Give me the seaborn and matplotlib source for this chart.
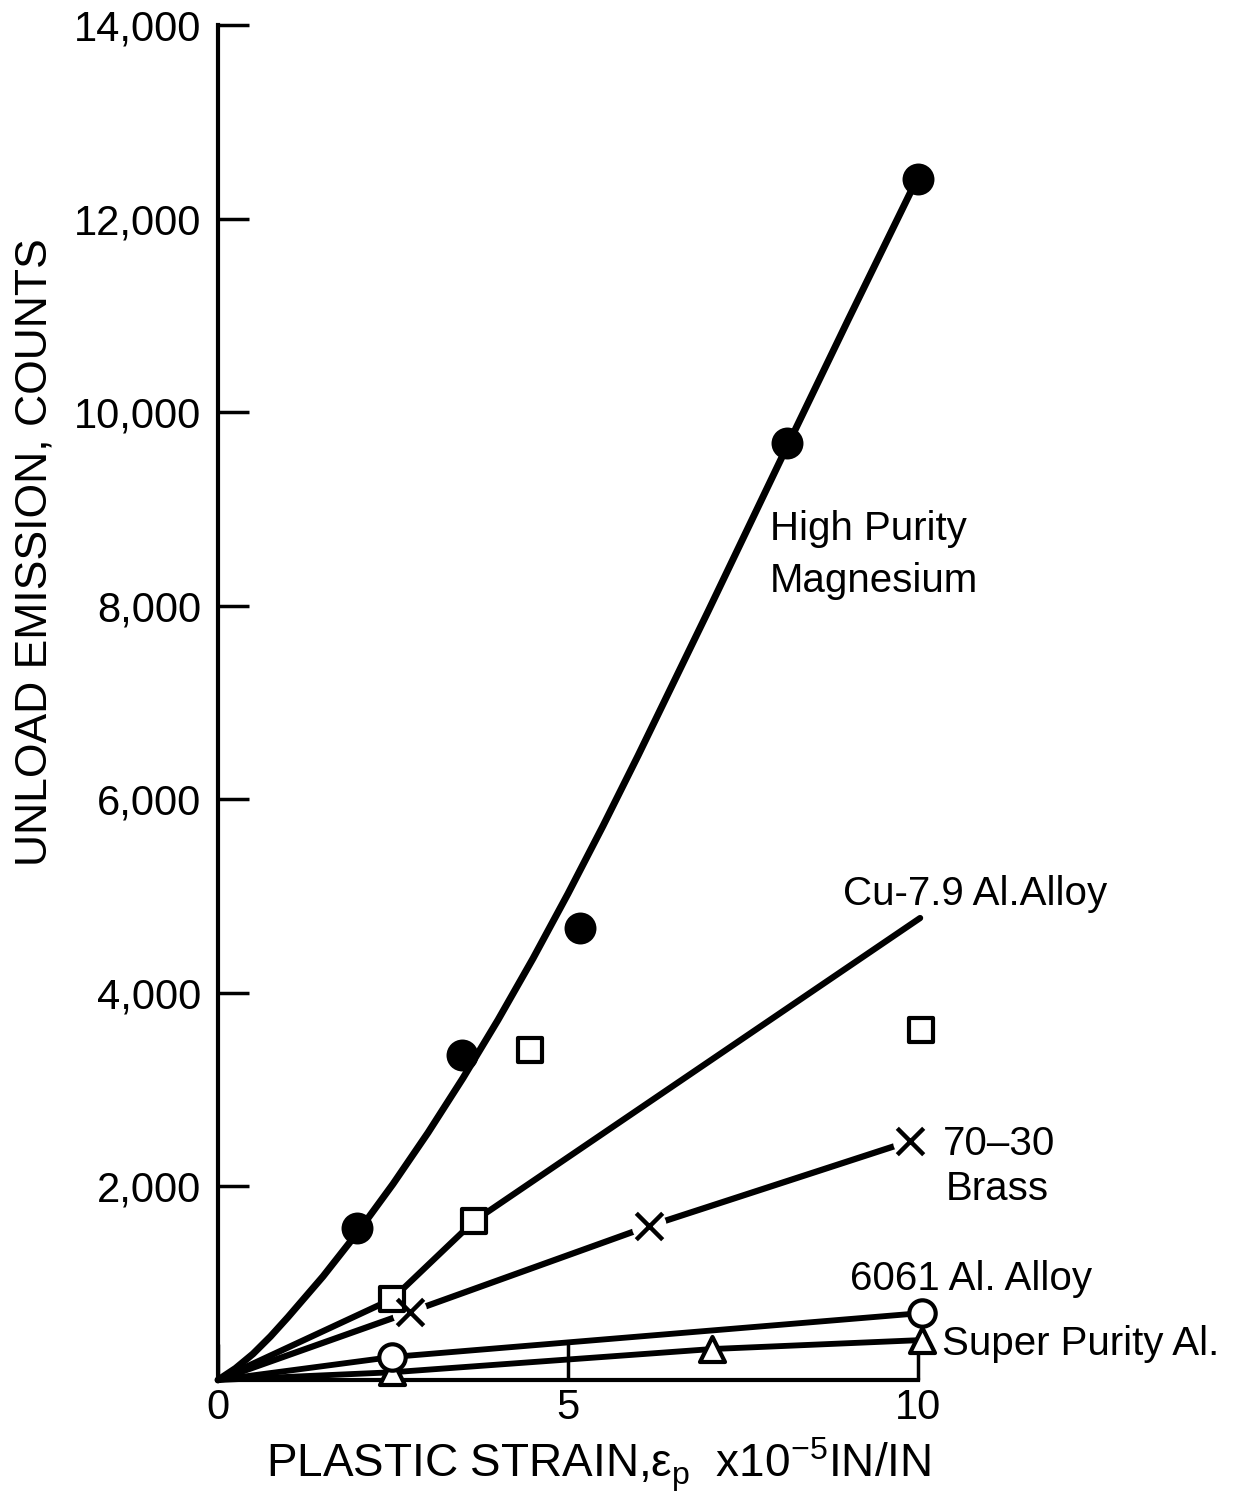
import matplotlib
matplotlib.use("Agg")
import matplotlib.pyplot as plt
import seaborn as sns
import pandas as pd

# ---------------- data ----------------
mg_curve_x = [0, 0.25, 0.5, 0.75, 1, 1.5, 2, 2.5, 3, 3.5, 4, 4.5, 5, 5.5, 6, 7, 8, 9, 9.95]
mg_curve_y = [0, 120, 270, 450, 650, 1070, 1530, 2025, 2555, 3120, 3720, 4355, 5025, 5725, 6450, 7940, 9450, 10950, 12356]
mg_x = [1.99, 3.49, 5.17, 8.13, 10.0]
mg_y = [1570, 3357, 4669, 9679, 12406]

cu_line_x = [0, 2.49, 3.66, 10.03]
cu_line_y = [0, 837, 1643, 4773]
cu_x = [2.49, 3.66, 4.46, 10.04]
cu_y = [837, 1643, 3409, 3616]

brass_x = [2.74, 6.16, 9.89]
brass_y = [702, 1591, 2469]

al6061_x = [2.49, 10.06]
al6061_y = [238, 692]

sp_x = [2.49, 7.06, 10.06]
sp_y = [80, 320, 413]

x_ticks = [0, 5, 10]
x_tick_labels = ["0", "5", "10"]
y_ticks = [2000, 4000, 6000, 8000, 10000, 12000, 14000]
y_tick_labels = ["2,000", "4,000", "6,000", "8,000", "10,000", "12,000", "14,000"]

# ---------------- style ----------------
sns.set_theme(style="white")
plt.rcParams["font.family"] = ["Liberation Sans", "DejaVu Sans"]
plt.rcParams["mathtext.fontset"] = "custom"
plt.rcParams["mathtext.rm"] = "Liberation Sans"
plt.rcParams["mathtext.it"] = "Liberation Sans"
plt.rcParams["mathtext.bf"] = "Liberation Sans:bold"

W, H = 1239, 1499
fig = plt.figure(figsize=(W / 100, H / 100), dpi=100)
x0_px, y0_px, ytop_px = 218, 1380, 25
ppu = 70.0
ax = fig.add_axes([x0_px / W, (H - y0_px) / H, (W - x0_px) / W, (y0_px - ytop_px) / H])
ax.set_xlim(0, (W - x0_px) / ppu)
ax.set_ylim(0, 14000)
ax.set_facecolor("white")
fig.patch.set_facecolor("white")


def line(xs, ys, lw):
    if xs[0] != 0:
        xs = [0] + list(xs)
        ys = [0] + list(ys)
    df = pd.DataFrame({"x": xs, "y": ys})
    sns.lineplot(data=df, x="x", y="y", sort=False, estimator=None, color="black",
                 linewidth=lw, ax=ax, zorder=2, clip_on=False)


# lines
line(mg_curve_x, mg_curve_y, 5.0)
line(cu_line_x, cu_line_y, 4.5)
line(brass_x, brass_y, 4.5)
line(al6061_x, al6061_y, 4.2)
line(sp_x, sp_y, 4.2)

# white halos to break the brass line around its crosses
sns.scatterplot(x=brass_x, y=brass_y, marker="o", s=25 ** 2, color="white",
                edgecolor="none", linewidth=0, ax=ax, zorder=3, clip_on=False)

# super purity triangles
sns.scatterplot(x=sp_x, y=sp_y, marker="^", s=18 ** 2, facecolor="white",
                edgecolor="black", linewidth=3, ax=ax, zorder=4, clip_on=False)
# 6061 open circles
sns.scatterplot(x=al6061_x, y=al6061_y, marker="o", s=19 ** 2, facecolor="white",
                edgecolor="black", linewidth=3, ax=ax, zorder=5, clip_on=False)
# Cu-7.9Al squares
sns.scatterplot(x=cu_x, y=cu_y, marker="s", s=17 ** 2, facecolor="white",
                edgecolor="black", linewidth=3, ax=ax, zorder=5, clip_on=False)
# brass crosses
sns.scatterplot(x=brass_x, y=brass_y, marker="x", s=19 ** 2, color="black",
                linewidth=3.2, ax=ax, zorder=6, clip_on=False)
# magnesium filled circles
sns.scatterplot(x=mg_x, y=mg_y, marker="o", s=23 ** 2, color="black",
                edgecolor="black", linewidth=0, ax=ax, zorder=6, clip_on=False)

# ---------------- axes ----------------
for s in ["top", "right"]:
    ax.spines[s].set_visible(False)
ax.spines["left"].set_bounds(0, 14000)
ax.spines["bottom"].set_bounds(0, 10)
for s in ["left", "bottom"]:
    ax.spines[s].set_linewidth(3)
    ax.spines[s].set_color("black")

ax.set_xticks(x_ticks)
ax.set_xticklabels(x_tick_labels)
ax.set_yticks(y_ticks)
ax.set_yticklabels(y_tick_labels)
ax.tick_params(axis="y", direction="in", length=22, width=2.5, pad=12,
               labelsize=30, colors="black", left=True)
ax.tick_params(axis="x", direction="in", length=26, width=2.5, pad=6,
               labelsize=30, colors="black", bottom=True)
ax.set_xlabel("")
ax.set_ylabel("")

fig.text(35 / W, 1 - 552 / H, "UNLOAD EMISSION, COUNTS", rotation=90,
         ha="center", va="center", fontsize=32, color="black")
fig.text(598 / W, (H - 1477) / H, r"PLASTIC STRAIN,$\epsilon_p$  x10$^{-5}$IN/IN",
         ha="center", va="baseline", fontsize=33, color="black")


def px2d(px, py):
    return (px - x0_px) / ppu, (y0_px - py) * 14000 / (y0_px - ytop_px)


fs = 29
for txt, (px, py) in [("High Purity", (770, 540)), ("Magnesium", (770, 592)),
                      ("Cu-7.9 Al.Alloy", (843, 905)), ("70\u201330", (943, 1155)),
                      ("Brass", (946, 1200)), ("6061 Al. Alloy", (850, 1290)),
                      ("Super Purity Al.", (942, 1355))]:
    x, y = px2d(px, py)
    ax.text(x, y, txt, ha="left", va="baseline", fontsize=fs, color="black")

fig.savefig("out.png", dpi=100, facecolor="white")
